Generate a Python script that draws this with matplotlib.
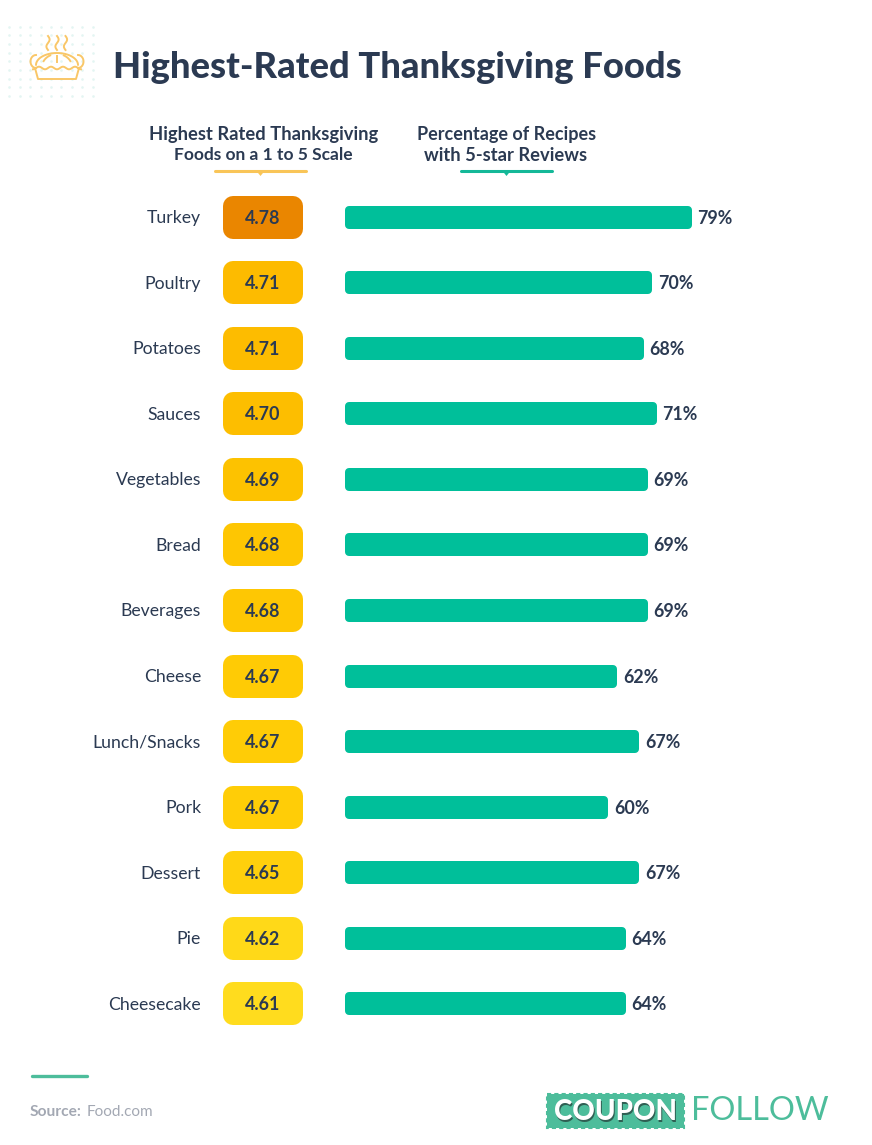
import numpy as np
import matplotlib
matplotlib.use('Agg')
import matplotlib.pyplot as plt
from matplotlib.patches import Polygon, Rectangle

foods = ['Turkey', 'Poultry', 'Potatoes', 'Sauces', 'Vegetables', 'Bread', 'Beverages',
         'Cheese', 'Lunch/Snacks', 'Pork', 'Dessert', 'Pie', 'Cheesecake']
ratings = [4.78, 4.71, 4.71, 4.70, 4.69, 4.68, 4.68, 4.67, 4.67, 4.67, 4.65, 4.62, 4.61]
five_star = [79, 70, 68, 71, 69, 69, 69, 62, 67, 60, 67, 64, 64]
pill_colors = ['#ea8600', '#fdbb00', '#fdbc00', '#fdbe00', '#fdc200', '#fec602', '#fec703',
               '#ffcb05', '#ffcc06', '#ffcd07', '#ffd00c', '#ffd918', '#ffdc1e']

W, H = 872, 1145
navy = '#2b3a52'
teal = '#00bf9a'
plt.rcParams['font.family'] = ['Lato', 'DejaVu Sans']

fig = plt.figure(figsize=(W / 100, H / 100), dpi=100)

# full figure axes in pixels, for everything that is not data
bg = fig.add_axes([0, 0, 1, 1])
bg.set_xlim(0, W)
bg.set_ylim(H, 0)
bg.axis('off')

# dot grid behind the icon
xd, yd = np.meshgrid(9.3 + 10.4 * np.arange(9), 26.7 + 8.67 * np.arange(9))
bg.scatter(xd.ravel(), yd.ravel(), s=3.5, color='#e3f5f2', linewidths=0)

# pie icon
gold = '#f9c768'
lw = 1.4
t = np.linspace(np.pi, 0, 40)
bg.plot(57 + 21 * np.cos(t), 65 - 12 * np.sin(t), color=gold, lw=lw, solid_capstyle='round')
wave_x = np.linspace(33, 81, 80)
bg.plot(wave_x, 68 + 1.3 * np.cos((wave_x - 33) / 48 * 2 * np.pi * 4), color=gold, lw=lw)
bg.plot([35, 38, 76, 79], [68, 79, 79, 68], color=gold, lw=lw, solid_joinstyle='round')
t = np.linspace(-np.pi / 2, np.pi / 2, 20)
bg.plot(36 - 5.5 * np.cos(t), 61.5 + 6.5 * np.sin(t), color=gold, lw=lw)
bg.plot(78 + 5.5 * np.cos(t), 61.5 + 6.5 * np.sin(t), color=gold, lw=lw)
bg.plot([57, 57], [56, 62], color=gold, lw=lw)
t = np.linspace(np.pi * 0.65, np.pi * 0.85, 10)
bg.plot(57 + 15 * np.cos(t), 67 - 13 * np.sin(t), color=gold, lw=lw)
bg.plot(57 - 15 * np.cos(t), 67 - 13 * np.sin(t), color=gold, lw=lw)
ys = np.linspace(36, 50, 30)
for x0 in [48, 57, 65.5]:
    bg.plot(x0 + 1.6 * np.sin((ys - 36) / 14 * 2 * np.pi), ys, color=gold, lw=lw)

bg.text(113, 67, 'Highest-Rated Thanksgiving Foods', color=navy, fontsize=26.2, fontweight='black',
        va='center', ha='left')

# column headers
for x, y, s, size in [(263.5, 134.5, 'Highest Rated Thanksgiving', 13.2), (263.5, 155.5, 'Foods on a 1 to 5 Scale', 12.5),
                      (506.5, 134.5, 'Percentage of Recipes', 13.0), (506, 155.5, 'with 5-star Reviews', 13.2)]:
    bg.text(x, y, s, color=navy, fontsize=size, fontweight='bold', ha='center', va='center')
for x0, x1, c in [(215, 306, '#f9c558'), (461, 552, '#14b898')]:
    bg.plot([x0, x1], [171, 171], color=c, lw=2.2, solid_capstyle='round')
    mid = (x0 + x1) / 2
    bg.add_patch(Polygon([[mid - 4, 171], [mid + 4, 171], [mid, 176]], color=c, lw=0))

# rows: same vertical scale for pills and bars
top, step = 217, 65.58
rows = np.arange(len(foods))
ylim = ((H - top) / step, -top / step)

pills = fig.add_axes([0, 0, 1, 1])
pills.set_xlim(0, W)
pills.set_ylim(*ylim)
pills.axis('off')
pills.patch.set_alpha(0)
r = 10
pills.barh(rows, [80 - 2 * r] * len(rows), left=223 + r, height=(43 - 2 * r) / step, color=pill_colors,
           edgecolor=pill_colors, linewidth=2 * r * 0.72, joinstyle='round')
for i in rows:
    pills.text(201, i + 1 / step, foods[i], color=navy, fontsize=12.7, ha='right', va='center')
    pills.text(263, i + 1 / step, f'{ratings[i]:.2f}', color=navy, fontsize=12.9, fontweight='bold',
               ha='center', va='center')

# percentage bars, 4.39 px per point
x0_px, px_per = 345, 4.39
bars = fig.add_axes([x0_px / W, 0, 100 * px_per / W, 1])
bars.set_xlim(0, 100)
bars.set_ylim(*ylim)
bars.axis('off')
bars.patch.set_alpha(0)
cap = 4
bars.barh(rows, np.array(five_star) - 2 * cap / px_per, left=cap / px_per, height=(23 - 2 * cap) / step,
          color=teal, edgecolor=teal, linewidth=2 * cap * 0.72, joinstyle='round')
for i in rows:
    bars.text(five_star[i] + 1.3, i + 1 / step, f'{five_star[i]}%', color=navy, fontsize=12.9, fontweight='bold',
              ha='left', va='center')

# footer
bg.plot([32, 87], [1076, 1076], color='#4dbd9b', lw=2.4, solid_capstyle='round')
bg.text(30, 1112, 'Source:', color='#a3a8b3', fontsize=11.2, fontweight='bold', ha='left', va='center')
bg.text(87, 1112, 'Food.com', color='#a3a8b3', fontsize=11, ha='left', va='center')

# logo
bg.add_patch(Rectangle((546.5, 1094), 137, 34, facecolor='#4dbd9b', edgecolor='#4dbd9b', lw=1.5, ls=(0, (2, 1.5))))
bg.text(616.5, 1113.5, 'COUPON', color='#2f5f53', fontsize=20, fontweight='black', ha='center', va='center')
bg.text(615, 1112, 'COUPON', color='white', fontsize=20, fontweight='black', ha='center', va='center')
bg.text(760, 1111, 'FOLLOW', color='#4dbd9b', fontsize=23.5, ha='center', va='center')

fig.savefig('out.png', dpi=100, facecolor='white')
